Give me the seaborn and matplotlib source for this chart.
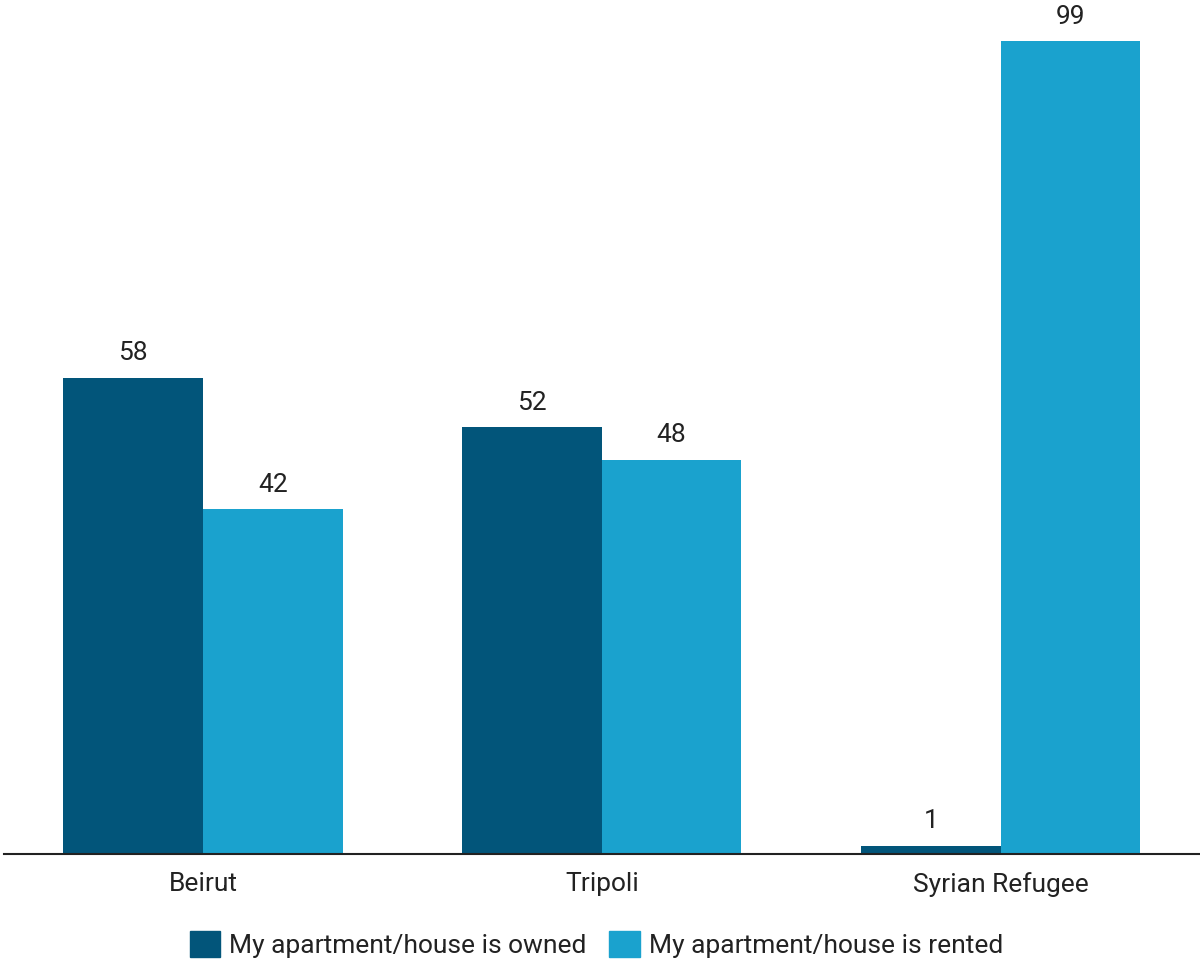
import matplotlib
matplotlib.use("Agg")
import matplotlib.pyplot as plt
import seaborn as sns
import pandas as pd

categories = ["Beirut", "Tripoli", "Syrian Refugee"]
owned = [58, 52, 1]
rented = [42, 48, 99]
series_names = ["My apartment/house is owned", "My apartment/house is rented"]
colors = ["#02557A", "#1AA2CE"]

df = pd.DataFrame({
    "city": categories * 2,
    "value": owned + rented,
    "tenure": [series_names[0]] * 3 + [series_names[1]] * 3,
})

sns.set_theme(style="white")
plt.rcParams["font.family"] = ["Roboto", "DejaVu Sans"]

fig = plt.figure(figsize=(12, 9.65), dpi=100)
ax = fig.add_axes([0.003, 0.115, 0.997, 0.885])

sns.barplot(data=df, x="city", y="value", hue="tenure", order=categories,
            hue_order=series_names, palette=colors, width=0.7, gap=0,
            saturation=1, linewidth=0, ax=ax, legend=False)

for cont in ax.containers:
    ax.bar_label(cont, labels=[f"{v:g}" for v in cont.datavalues],
                 padding=9, fontsize=19, color="#222222")

ax.set_xlim(-0.5, 2.5)
ax.set_ylim(0, 104)
ax.set_xlabel("")
ax.set_ylabel("")
ax.set_yticks([])
ax.tick_params(axis="x", labelsize=19, colors="#222222", length=0, pad=13)
for side in ["top", "right", "left"]:
    ax.spines[side].set_visible(False)
ax.spines["bottom"].set_color("#222222")
ax.spines["bottom"].set_linewidth(1.5)

handles = [plt.Rectangle((0, 0), 1, 1, color=c) for c in colors]
fig.legend(handles, series_names, loc="lower center", bbox_to_anchor=(0.497, -0.012),
           ncol=2, frameon=False, fontsize=19, handlelength=1.15, handleheight=1.15,
           handletextpad=0.35, columnspacing=0.85, labelcolor="#222222",
           borderpad=0.2)

fig.savefig("out.png", dpi=100)
